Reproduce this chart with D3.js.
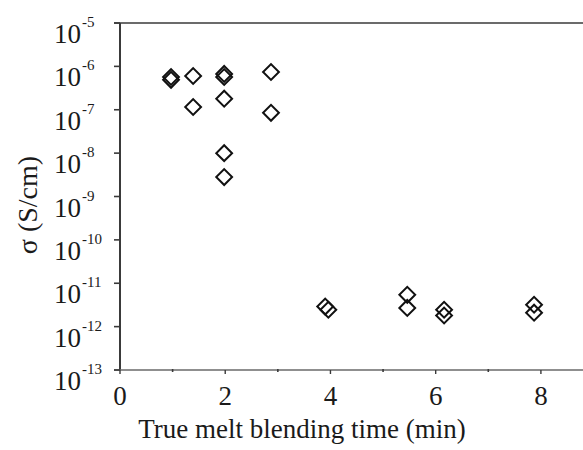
<!DOCTYPE html>
<html>
<head>
<meta charset="utf-8">
<script src="https://cdn.jsdelivr.net/npm/d3@7/dist/d3.min.js"></script>
<style>
  html, body { margin: 0; padding: 0; background: #fff; }
  svg { display: block; }
  text { font-family: "Liberation Serif", "Times New Roman", serif; fill: #1a1a1a; }
</style>
</head>
<body>
<svg id="chart" width="583" height="450"></svg>
<script>
// Data (true melt blending time in min, conductivity in S/cm)
const timeMin = [0.97, 0.97, 1.39, 1.39, 1.98, 1.98, 1.98, 1.98, 1.98, 2.87, 2.87,
                 3.9, 3.96, 5.46, 5.46, 6.16, 6.16, 7.87, 7.87];
const sigma   = [5.7e-7, 4.9e-7, 6.0e-7, 1.16e-7, 6.7e-7, 5.7e-7, 1.8e-7, 1.0e-8, 2.8e-9, 7.4e-7, 8.5e-8,
                 2.9e-12, 2.45e-12, 5.4e-12, 2.7e-12, 2.45e-12, 1.8e-12, 3.2e-12, 2.1e-12];
const xTicks = [0, 2, 4, 6, 8];
const xMinorTicks = [1, 3, 5, 7];
const yExponents = [-5, -6, -7, -8, -9, -10, -11, -12, -13];
const xTitle = "True melt blending time (min)";
const yTitle = "\u03c3 (S/cm)";

const svg = d3.select("#chart");
const x = d3.scaleLinear().domain([0, 8.8]).range([120, 583]);
const y = d3.scaleLog().domain([1e-13, 1e-5]).range([370, 23]);

const axisColor = "#3a3a3a";
const serif = "'Liberation Serif', 'Times New Roman', serif";

// frame lines: left, top, bottom
svg.append("line").attr("x1", x(0)).attr("x2", x(0)).attr("y1", y(1e-5)).attr("y2", y(1e-13))
  .attr("stroke", axisColor).attr("stroke-width", 2);
svg.append("line").attr("x1", x(0) - 6).attr("x2", x(8.8)).attr("y1", y(1e-5)).attr("y2", y(1e-5))
  .attr("stroke", axisColor).attr("stroke-width", 1.6);
svg.append("line").attr("x1", x(0) - 6).attr("x2", x(8.8)).attr("y1", y(1e-13)).attr("y2", y(1e-13))
  .attr("stroke", "#6a6a6a").attr("stroke-width", 1.6);

// y ticks and labels
const yg = svg.append("g");
yExponents.forEach(e => {
  const v = Math.pow(10, e);
  yg.append("line").attr("x1", x(0) - 6).attr("x2", x(0)).attr("y1", y(v)).attr("y2", y(v))
    .attr("stroke", axisColor).attr("stroke-width", 1.6);
  yg.append("text").attr("x", 81).attr("y", y(v) + 20)
    .attr("text-anchor", "end").attr("font-family", serif).style("font-size", "27px").text("10");
  yg.append("text").attr("x", 82).attr("y", y(v) + 4)
    .attr("text-anchor", "start").attr("font-family", serif).style("font-size", "15px").text("-" + Math.abs(e));
});

// x ticks and labels
const xg = svg.append("g");
xTicks.forEach(t => {
  xg.append("line").attr("x1", x(t)).attr("x2", x(t)).attr("y1", y(1e-13)).attr("y2", y(1e-13) + 4)
    .attr("stroke", axisColor).attr("stroke-width", 1.4);
  xg.append("text").attr("x", x(t)).attr("y", 405).attr("text-anchor", "middle")
    .attr("font-family", serif).style("font-size", "27px").text(t);
});
xMinorTicks.forEach(t => {
  xg.append("line").attr("x1", x(t)).attr("x2", x(t)).attr("y1", y(1e-13) - 1).attr("y2", y(1e-13) + 2)
    .attr("stroke", axisColor).attr("stroke-width", 1.6);
});

// axis titles
svg.append("text").attr("x", 302).attr("y", 438).attr("text-anchor", "middle")
  .attr("font-family", serif).style("font-size", "27px").text(xTitle);
svg.append("text").attr("transform", "translate(37,205) rotate(-90)").attr("text-anchor", "middle")
  .attr("font-family", serif).style("font-size", "28px").text(yTitle);

// data: open diamonds
const sym = d3.symbol().type(d3.symbolSquare).size(125);
svg.append("g").selectAll("path").data(d3.range(timeMin.length)).join("path")
  .attr("transform", i => `translate(${x(timeMin[i])},${y(sigma[i])}) rotate(45)`)
  .attr("d", sym)
  .attr("fill", "none").attr("stroke", "#111").attr("stroke-width", 2);
</script>
</body>
</html>
